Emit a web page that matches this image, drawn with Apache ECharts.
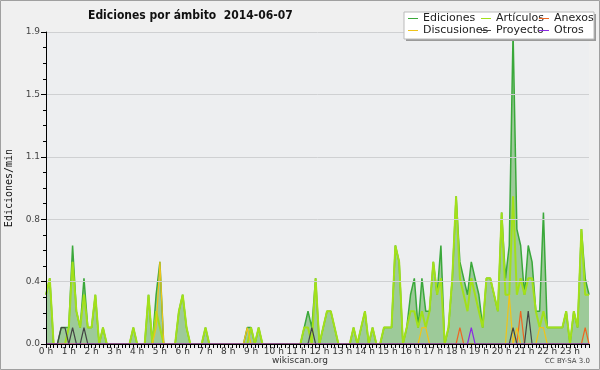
<!DOCTYPE html>
<html>
<head>
<meta charset="utf-8">
<script src="https://cdn.jsdelivr.net/npm/echarts@6/dist/echarts.min.js"></script>
<style>
html,body{margin:0;padding:0;background:#f0f0f0;}
#chart{width:600px;height:370px;}
</style>
</head>
<body>
<div id="chart"></div>
<script>
// Tick labels (one per hour); data are 10-minute slots (6 per hour)
const hourLabels = ['0 h','1 h','2 h','3 h','4 h','5 h','6 h','7 h','8 h','9 h','10 h','11 h',
  '12 h','13 h','14 h','15 h','16 h','17 h','18 h','19 h','20 h','21 h','22 h','23 h'];
const slotMinutes = ['00','10','20','30','40','50'];

// Ediciones/min per 10-minute slot, one row per hour
const ediciones = [
  0.3,0.4,0,0,0.1,0.1,
  0.1,0.6,0.2,0.1,0.4,0.1,
  0.1,0.3,0,0.1,0,0,
  0,0,0,0,0,0.1,
  0,0,0,0.3,0,0.3,
  0.5,0,0,0,0,0.2,
  0.3,0.1,0,0,0,0,
  0.1,0,0,0,0,0,
  0,0,0,0,0,0.1,
  0.1,0,0.1,0,0,0,
  0,0,0,0,0,0,
  0,0,0.1,0.2,0.1,0.4,
  0,0.1,0.2,0.2,0.1,0,
  0,0,0,0.1,0,0.1,
  0.2,0,0.1,0,0,0.1,
  0.1,0.1,0.6,0.5,0,0.1,
  0.3,0.4,0.1,0.4,0.2,0.2,
  0.5,0.3,0.6,0,0.1,0.4,
  0.9,0.5,0.4,0.3,0.5,0.4,
  0.3,0.1,0.4,0.4,0.3,0.2,
  0.8,0.4,0.6,1.9,0.7,0.6,
  0.3,0.6,0.5,0.2,0.2,0.8,
  0.1,0.1,0.1,0.1,0.1,0.2,
  0,0.2,0.1,0.7,0.4,0.3
];
const articulos = [
  0.3,0.4,0,0,0,0,
  0.1,0.5,0.2,0.1,0.3,0.1,
  0.1,0.3,0,0.1,0,0,
  0,0,0,0,0,0.1,
  0,0,0,0.3,0,0.2,
  0.1,0,0,0,0,0.2,
  0.3,0.1,0,0,0,0,
  0.1,0,0,0,0,0,
  0,0,0,0,0,0,
  0.1,0,0.1,0,0,0,
  0,0,0,0,0,0,
  0,0,0.1,0.1,0,0.4,
  0,0.1,0.2,0.2,0.1,0,
  0,0,0,0.1,0,0.1,
  0.2,0,0.1,0,0,0.1,
  0.1,0.1,0.6,0.5,0,0.1,
  0.2,0.2,0.1,0.2,0.1,0.2,
  0.5,0.3,0.4,0,0.1,0.4,
  0.9,0.4,0.3,0.2,0.4,0.3,
  0.2,0.1,0.4,0.4,0.3,0.2,
  0.8,0.3,0.3,0.9,0.3,0.4,
  0.3,0.4,0.4,0.2,0.1,0.2,
  0.1,0.1,0.1,0.1,0.1,0.2,
  0,0.2,0.1,0.7,0.3,0.3
];
const anexos = [
  0,0,0,0,0,0, 0,0,0,0,0,0, 0,0,0,0,0,0, 0,0,0,0,0,0,
  0,0,0,0,0,0, 0,0,0,0,0,0, 0,0,0,0,0,0, 0,0,0,0,0,0,
  0,0,0,0,0,0, 0,0,0,0,0,0, 0,0,0,0,0,0, 0,0,0,0,0,0,
  0,0,0,0,0,0, 0,0,0,0,0,0, 0,0,0,0,0,0, 0,0,0,0,0,0,
  0,0,0,0,0,0, 0,0,0,0,0,0, 0,0.1,0,0,0,0, 0,0,0,0,0,0,
  0,0,0,0,0,0.2, 0,0,0,0,0,0, 0,0,0,0,0,0, 0,0,0,0,0.1,0
];
const discusiones = [
  0,0,0,0,0,0, 0,0,0,0,0,0, 0,0,0,0,0,0, 0,0,0,0,0,0,
  0,0,0,0,0,0.1, 0.5,0,0,0,0,0, 0,0,0,0,0,0, 0,0,0,0,0,0,
  0,0,0,0,0,0.1, 0,0,0,0,0,0, 0,0,0,0,0,0, 0,0,0,0,0,0,
  0,0,0,0,0,0, 0,0,0,0,0,0, 0,0,0,0,0,0, 0,0,0,0,0,0,
  0,0,0,0.1,0.1,0, 0,0,0,0,0,0, 0,0,0,0,0,0, 0,0,0,0,0,0,
  0,0,0.3,0,0.1,0, 0,0,0,0,0.1,0.1, 0,0,0,0,0,0, 0,0,0,0,0,0
];
const proyecto = [
  0,0,0,0,0.1,0.1, 0,0.1,0,0,0.1,0, 0,0,0,0,0,0, 0,0,0,0,0,0,
  0,0,0,0,0,0, 0,0,0,0,0,0, 0,0,0,0,0,0, 0,0,0,0,0,0,
  0,0,0,0,0,0, 0,0,0,0,0,0, 0,0,0,0,0,0, 0,0,0,0,0.1,0,
  0,0,0,0,0,0, 0,0,0,0,0,0, 0,0,0,0,0,0, 0,0,0,0,0,0,
  0,0,0,0,0,0, 0,0,0,0,0,0, 0,0,0,0,0,0, 0,0,0,0,0,0,
  0,0,0,0.1,0,0, 0,0.2,0,0,0,0, 0,0,0,0,0,0, 0,0,0,0,0,0
];
const otros = [
  0,0,0,0,0,0, 0,0,0,0,0,0, 0,0,0,0,0,0, 0,0,0,0,0,0,
  0,0,0,0,0,0, 0,0,0,0,0,0, 0,0,0,0,0,0, 0,0,0,0,0,0,
  0,0,0,0,0,0, 0,0,0,0,0,0, 0,0,0,0,0,0, 0,0,0,0,0,0,
  0,0,0,0,0,0, 0,0,0,0,0,0, 0,0,0,0,0,0, 0,0,0,0,0,0,
  0,0,0,0,0,0, 0,0,0,0,0,0, 0,0,0,0,0.1,0, 0,0,0,0,0,0,
  0,0,0,0,0,0, 0,0,0,0,0,0, 0,0,0,0,0,0, 0,0,0,0,0,0
];

// category axis: one category per 10-minute slot
const categories = [];
hourLabels.forEach(h => slotMinutes.forEach(m => categories.push(h.replace(' h','') + ':' + m)));

const chart = echarts.init(document.getElementById('chart'), null, {renderer:'canvas'});

function lineSeries(name, data, color, width, z, extra) {
  return Object.assign({
    name: name, type: 'line', data: data, symbol: 'none', z: z,
    lineStyle: {color: color, width: width}, itemStyle: {color: color},
    emphasis: {disabled: true}, animation: false
  }, extra || {});
}

const legendText = {fontFamily: 'DejaVu Sans', fontSize: 11, color: '#222'};
function legendAt(left, names) {
  return {
    data: names, left: left, top: 13, orient: 'vertical', itemWidth: 10, itemHeight: 9,
    itemGap: 1, padding: 0, z: 20, textStyle: legendText, selectedMode: false,
    icon: 'path://M0,4 L10,4 L10,5 L0,5 Z'
  };
}

chart.setOption({
  backgroundColor: '#f0f0f0',
  animation: false,
  title: {
    text: 'Ediciones por ámbito  2014-06-07', left: 83, top: 5,
    textStyle: {fontFamily: 'DejaVu Sans Condensed', fontWeight: 'bold', fontSize: 12, color: '#111'}
  },
  legend: [
    legendAt(408, ['Ediciones', 'Discusiones']),
    legendAt(481, ['Artículos', 'Proyecto']),
    legendAt(539, ['Anexos', 'Otros'])
  ],
  grid: {left: 46, right: 11, top: 32, bottom: 26, containLabel: false, outerBoundsMode: 'none',
    show: true, backgroundColor: '#edeef0', borderWidth: 0},
  xAxis: {
    type: 'category', data: categories, boundaryGap: false, z: 10,
    axisLine: {lineStyle: {color: '#000', width: 1}},
    axisTick: {show: true, interval: 0, length: 4, lineStyle: {color: '#000'}},
    axisLabel: {interval: 5, margin: 3, fontFamily: 'DejaVu Sans', fontSize: 9, color: '#333',
      formatter: (v, idx) => hourLabels[Math.round(idx / 6)]},
    splitLine: {show: false}
  },
  yAxis: {
    type: 'value', min: 0, max: 1.9, interval: 0.38, z: 10,
    name: 'Ediciones/min', nameLocation: 'middle', nameGap: 23, nameRotate: 90,
    nameTextStyle: {fontFamily: 'DejaVu Sans Mono', fontSize: 10, color: '#111'},
    axisLine: {show: true, lineStyle: {color: '#000', width: 1}},
    axisTick: {show: true, length: 5, lineStyle: {color: '#000'}},
    minorTick: {show: true, splitNumber: 4, length: 3, lineStyle: {color: '#000'}},
    axisLabel: {margin: 6, fontFamily: 'DejaVu Sans', fontSize: 9, color: '#444',
      formatter: v => v.toFixed(1)},
    splitLine: {show: true, lineStyle: {color: '#cfd0d2', width: 1}}
  },
  graphic: [
    {type: 'rect', z: 15, shape: {x: 406, y: 14, width: 190, height: 27}, style: {fill: '#9a9a9a'}},
    {type: 'rect', z: 16, shape: {x: 404, y: 12, width: 190, height: 27}, style: {fill: '#ffffff', stroke: '#bbbbbb', lineWidth: 1}},
    {type: 'text', z: 16, left: 'center', top: 356, style: {text: 'wikiscan.org', fontFamily: 'DejaVu Sans', fontSize: 9, fill: '#333'}},
    {type: 'text', z: 16, right: 10, top: 358, style: {text: 'CC BY-SA 3.0', fontFamily: 'DejaVu Sans', fontSize: 7, fill: '#444'}},
    {type: 'rect', z: 30, shape: {x: 0.5, y: 0.5, width: 599, height: 369}, style: {fill: 'none', stroke: '#a0a0a0', lineWidth: 1}}
  ],
  series: [
    lineSeries('Ediciones', ediciones, '#3aa83a', 1.5, 2, {areaStyle: {color: '#9dca99', opacity: 1}}),
    lineSeries('Artículos', articulos, '#a2e01a', 2, 3),
    lineSeries('Anexos', anexos, '#ee6622', 1.2, 4),
    lineSeries('Discusiones', discusiones, '#f0c419', 1.2, 4),
    lineSeries('Proyecto', proyecto, '#444444', 1.2, 4),
    lineSeries('Otros', otros, '#8a2be2', 1.2, 4)
  ]
});
</script>
</body>
</html>
